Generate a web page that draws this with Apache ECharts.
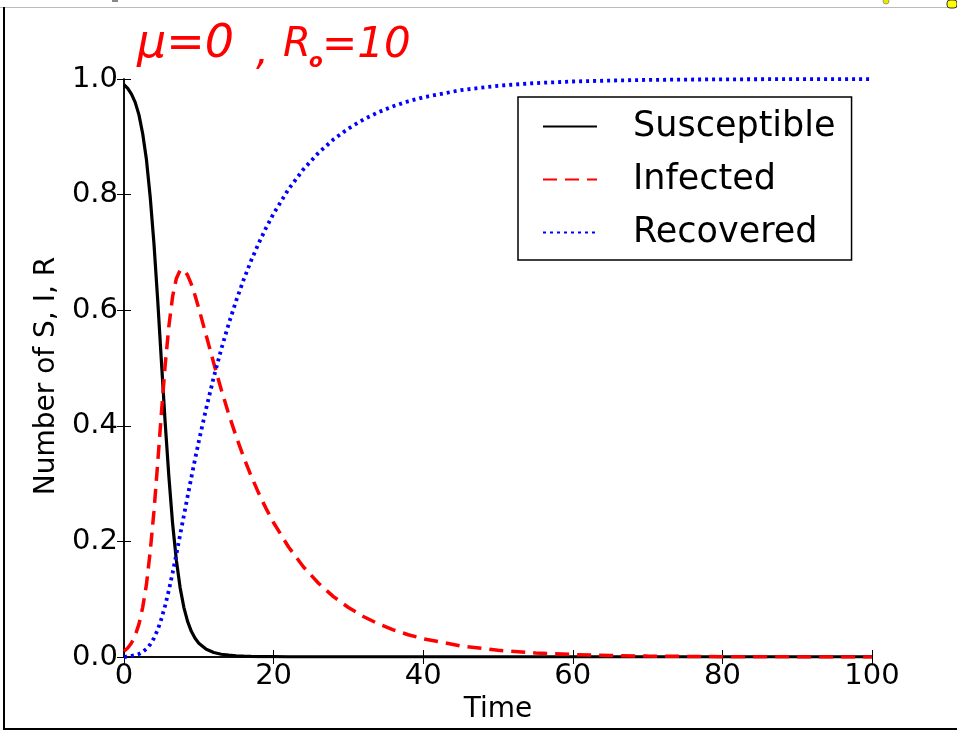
<!DOCTYPE html>
<html>
<head>
<meta charset="utf-8">
<script src="https://cdn.jsdelivr.net/npm/echarts@6/dist/echarts.min.js"></script>
<style>
html,body{margin:0;padding:0;background:#fff;}
#chart{width:957px;height:731px;}
</style>
</head>
<body>
<div id="chart"></div>
<script>
var times = [0,0.5,1,1.5,2,2.5,3,3.5,4,4.5,5,5.5,6,6.5,7,7.5,8,8.5,9,9.5,10,11,12,13,14,15,16,17,18,19,20,22,24,26,28,30,32,34,36,38,40,45,50,55,60,65,70,75,80,85,90,95,100];
var susceptible = [0.99,0.9838,0.9738,0.9596,0.938,0.9052,0.8606,0.7963,0.716,0.6185,0.512,0.4064,0.312,0.2305,0.1674,0.1201,0.086,0.0616,0.0444,0.0323,0.0238,0.0133,0.0078,0.0048,0.0031,0.0021,0.0014,0.0010,0.0008,0.0006,0.0005,0.0003,0.0002,0.00015,0.00012,0.0001,0.00008,0.00007,0.00006,0.00006,0.00005,0.00005,0.00005,0.00005,0.00005,0.00005,0.00005,0.00005,0.00005,0.00005,0.00005,0.00005,0.00005];
var infected = [0.01,0.0156,0.0242,0.0373,0.0568,0.0859,0.1253,0.1820,0.2514,0.3346,0.422,0.5046,0.5725,0.6238,0.6549,0.6690,0.6697,0.6607,0.6452,0.6254,0.6032,0.5559,0.5081,0.4627,0.4203,0.3812,0.3457,0.3131,0.2836,0.2567,0.2323,0.1903,0.1558,0.1277,0.1045,0.0856,0.0701,0.0574,0.0470,0.0385,0.0316,0.0192,0.0116,0.0071,0.0043,0.0026,0.0016,0.0010,0.0006,0.0004,0.0002,0.0001,0.0001];
var recovered = [0,0.0006,0.0020,0.0031,0.0052,0.0089,0.0141,0.0217,0.0326,0.0469,0.066,0.0890,0.1155,0.1457,0.1777,0.2109,0.2443,0.2777,0.3104,0.3423,0.3730,0.4308,0.4841,0.5325,0.5766,0.6167,0.6529,0.6859,0.7156,0.7427,0.7672,0.8094,0.8440,0.8722,0.8954,0.9143,0.9298,0.9425,0.9529,0.9614,0.9683,0.9807,0.9883,0.9929,0.9957,0.9973,0.9984,0.9990,0.9994,0.9996,0.9997,0.9998,0.9998];
var seriesNames = ['Susceptible','Infected','Recovered'];
var xTicks = [0,20,40,60,80,100];
var yTicks = ['0.0','0.2','0.4','0.6','0.8','1.0'];
var xLabel = 'Time';
var yLabel = 'Number of S, I, R';

function pairs(vals){ return times.map(function(t,i){ return [t, vals[i]]; }); }

var FONT = 'DejaVu Sans';
var chart = echarts.init(document.getElementById('chart'), null, {renderer:'canvas'});
var axisLine = {show:true, lineStyle:{color:'#000', width:1.5}};
var tick = {show:true, inside:true, length:7, lineStyle:{color:'#000', width:1}};
var option = {
  animation:false,
  backgroundColor:'#fff',
  grid:{left:124, right:85, top:79, bottom:74, containLabel:false},
  xAxis:[{
    type:'value', min:0, max:100, interval:20, position:'bottom',
    axisLine:axisLine, axisTick:tick, splitLine:{show:false},
    axisLabel:{color:'#000', fontFamily:FONT, fontSize:29, margin:5,
      formatter:function(v){ return String(xTicks[Math.round(v/20)]); }},
    name:xLabel, nameLocation:'middle', nameGap:36,
    nameTextStyle:{color:'#000', fontFamily:FONT, fontSize:28}
  },{
    type:'value', min:0, max:100, interval:20, position:'top',
    axisLine:axisLine, axisTick:tick, splitLine:{show:false}, axisLabel:{show:false}
  }],
  yAxis:[{
    type:'value', min:0, max:1, interval:0.2, position:'left',
    axisLine:axisLine, axisTick:tick, splitLine:{show:false},
    axisLabel:{color:'#000', fontFamily:FONT, fontSize:29, margin:6,
      formatter:function(v){ return yTicks[Math.round(v*5)]; }},
    name:yLabel, nameLocation:'middle', nameGap:55, nameRotate:90,
    nameTextStyle:{color:'#000', fontFamily:FONT, fontSize:28, padding:[0,16,0,0]}
  },{
    type:'value', min:0, max:1, interval:0.2, position:'right',
    axisLine:axisLine, axisTick:tick, splitLine:{show:false}, axisLabel:{show:false}
  }],
  legend:{
    orient:'vertical', left:518, top:97,
    backgroundColor:'#fff', borderColor:'#000', borderWidth:1.5, borderRadius:0,
    padding:[12,16,10,24], itemWidth:54, itemHeight:14, itemGap:18,
    itemStyle:{opacity:0},
    textStyle:{color:'#000', fontFamily:FONT, fontSize:35, lineHeight:35, padding:[0,0,0,31]},
    data:seriesNames
  },
  series:[
    {name:seriesNames[0], type:'line', data:pairs(susceptible), symbol:'none', showSymbol:false,
     lineStyle:{color:'#000', width:3.2, type:'solid'}, itemStyle:{color:'#000'}},
    {name:seriesNames[1], type:'line', data:pairs(infected), symbol:'none', showSymbol:false,
     lineStyle:{color:'#ff0000', width:3.5, type:[14,8]}, itemStyle:{color:'#ff0000'}},
    {name:seriesNames[2], type:'line', data:pairs(recovered), symbol:'none', showSymbol:false,
     lineStyle:{color:'#0000ff', width:3.8, type:[3,4]}, itemStyle:{color:'#0000ff'}}
  ],
  graphic:[
    {type:'rect', shape:{x:0,y:7,width:957,height:1}, style:{fill:'#bbbbbb'}, silent:true},
    {type:'rect', shape:{x:3,y:7,width:2,height:723}, style:{fill:'#000'}, silent:true},
    {type:'rect', shape:{x:3,y:728,width:954,height:2}, style:{fill:'#000'}, silent:true},
    {type:'rect', shape:{x:112,y:0,width:6,height:2}, style:{fill:'#888'}, silent:true},
    {type:'circle', shape:{cx:886,cy:1,r:3}, style:{fill:'#e8e800', stroke:'#555', lineWidth:0.5}, silent:true},
    {type:'rect', shape:{x:947,y:0,width:10,height:8,r:3}, style:{fill:'#ffff00', stroke:'#333', lineWidth:1}, silent:true},
    {type:'text', left:137, top:22, silent:true,
     style:{text:'μ=0', fill:'#ff0000', font:'italic 46px "DejaVu Sans"'}},
    {type:'text', left:256, top:34, silent:true,
     style:{text:',', fill:'#ff0000', font:'italic 40px "DejaVu Sans"'}},
    {type:'text', left:283, top:26, silent:true,
     style:{text:'R', fill:'#ff0000', font:'italic 40px "DejaVu Sans"'}},
    {type:'text', left:309, top:52, silent:true,
     style:{text:'o', fill:'#ff0000', font:'italic bold 20px "DejaVu Sans"'}},
    {type:'text', left:322, top:25, silent:true,
     style:{text:'=10', fill:'#ff0000', font:'italic 42px "DejaVu Sans"'}}
  ]
};
chart.setOption(option);
</script>
</body>
</html>
